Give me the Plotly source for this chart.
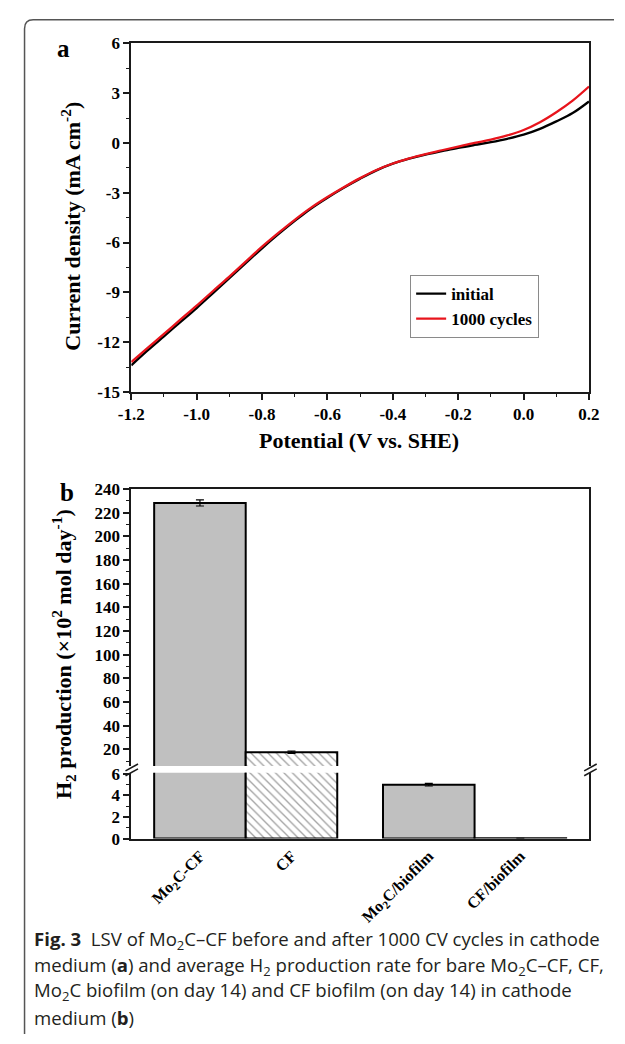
import plotly.graph_objects as go

W, H = 625, 1044

# ---------------- Panel a data (LSV) ----------------
potential = [-1.2, -1.15, -1.1, -1.05, -1.0, -0.95, -0.9, -0.85, -0.8, -0.75,
             -0.7, -0.65, -0.6, -0.55, -0.5, -0.45, -0.4, -0.35, -0.3, -0.25,
             -0.2, -0.15, -0.1, -0.05, 0.0, 0.05, 0.1, 0.15, 0.2]
j_initial = [-13.4, -12.5, -11.65, -10.8, -9.95, -9.05, -8.15, -7.25, -6.35, -5.5,
             -4.7, -3.95, -3.3, -2.7, -2.15, -1.65, -1.25, -0.95, -0.7, -0.5,
             -0.3, -0.12, 0.05, 0.25, 0.5, 0.85, 1.3, 1.8, 2.5]
j_1000 = [-13.2, -12.35, -11.5, -10.65, -9.8, -8.92, -8.05, -7.15, -6.25, -5.42,
          -4.63, -3.9, -3.26, -2.67, -2.12, -1.63, -1.24, -0.93, -0.67, -0.44,
          -0.22, 0.0, 0.2, 0.45, 0.78, 1.25, 1.85, 2.55, 3.4]
a_xticks = [-1.2, -1.0, -0.8, -0.6, -0.4, -0.2, 0.0, 0.2]
a_xticklabels = ["-1.2", "-1.0", "-0.8", "-0.6", "-0.4", "-0.2", "0.0", "0.2"]
a_yticks = [-15, -12, -9, -6, -3, 0, 3, 6]
a_yticklabels = ["-15", "-12", "-9", "-6", "-3", "0", "3", "6"]

# ---------------- Panel b data (H2 production) ----------------
categories = ["Mo<sub>2</sub>C-CF", "CF", "Mo<sub>2</sub>C/biofilm", "CF/biofilm"]
h2_rate = [228.3, 17.6, 5.0, 0.03]
h2_err = [2.6, 1.0, 0.12, 0.0]
b_upper_ticks = [20, 40, 60, 80, 100, 120, 140, 160, 180, 200, 220, 240]
b_lower_ticks = [0, 2, 4, 6]

# broken y axis ranges for panel b
LOWER_RANGE = [0, 6.1]
UPPER_RANGE = [6, 240]

# ---------------- layout helpers ----------------
def px(x):
    return x / W

def py(y):
    return 1 - y / H

# bar centres on a numeric axis (two touching pairs separated by half a bar)
bar_slots = [0.75, 1.75, 3.25, 4.25]

SERIF = "Liberation Serif"
SANS = "Open Sans"
AX = "#1a1a1a"
XDOM = [px(123), px(599)]

fig = go.Figure()

# Panel a lines
fig.add_trace(go.Scatter(x=potential, y=j_initial, mode="lines", name="initial",
                         line=dict(color="#000000", width=2.3, shape="spline"),
                         xaxis="x", yaxis="y"))
fig.add_trace(go.Scatter(x=potential, y=j_1000, mode="lines", name="1000 cycles",
                         line=dict(color="#e8141c", width=2.3, shape="spline"),
                         xaxis="x", yaxis="y"))

bar_colors = ["#c0c0c0", "#ffffff", "#c0c0c0", "#c0c0c0"]
bar_patterns = ["", "\\", "", ""]
# upper segment only shows bars that reach into it
upper_vals = [v if v > UPPER_RANGE[0] else None for v in h2_rate]
upper_err = [e if v > UPPER_RANGE[0] else 0 for v, e in zip(h2_rate, h2_err)]
lower_err = [e if v <= LOWER_RANGE[1] else 0 for v, e in zip(h2_rate, h2_err)]
for xa, ya, vals, errs in (("x2", "y2", h2_rate, lower_err),
                           ("x3", "y3", upper_vals, upper_err)):
    fig.add_trace(go.Bar(
        x=bar_slots, y=vals, width=1.0, xaxis=xa, yaxis=ya, showlegend=False,
        marker=dict(color=bar_colors,
                    line=dict(color="#000000", width=2),
                    pattern=dict(shape=bar_patterns, fgcolor="#3a3a3a",
                                 bgcolor="#ffffff", size=6, solidity=0.22)),
        error_y=dict(type="data", array=errs, visible=True,
                     color="#000000", thickness=1.2, width=4),
    ))

tickfont = dict(family=SERIF, size=17, color="#000000", weight="bold")
common = dict(showline=True, linecolor=AX, linewidth=1.8, showgrid=False,
              zeroline=False, ticks="outside", tickcolor=AX, tickwidth=1.6,
              ticklen=6, tickfont=tickfont)

fig.update_layout(
    width=W, height=H, margin=dict(l=0, r=0, t=0, b=0),
    paper_bgcolor="white", plot_bgcolor="white",
    showlegend=True,
    legend=dict(x=px(413), y=py(271), xanchor="left", yanchor="top",
                bordercolor="#8a8a8a", borderwidth=1, bgcolor="white",
                font=dict(family=SERIF, size=17, color="#000000", weight="bold"),
                tracegroupgap=0, itemwidth=30),
    xaxis=dict(domain=XDOM, anchor="y", range=[-1.2, 0.2], mirror=True,
               tickvals=a_xticks, ticktext=a_xticklabels,
               minor=dict(dtick=0.1, tick0=-1.2, ticks="outside", ticklen=3,
                          tickcolor=AX, tickwidth=1.4), **common),
    yaxis=dict(domain=[py(390), py(35)], anchor="x", range=[-15, 6], mirror=True,
               tickvals=a_yticks, ticktext=a_yticklabels,
               minor=dict(dtick=1.5, tick0=-15, ticks="outside", ticklen=3,
                          tickcolor=AX, tickwidth=1.4), **common),
    xaxis2=dict(domain=XDOM, anchor="y2", range=[0, 5], showline=True,
                linecolor=AX, linewidth=1.8, showgrid=False, zeroline=False,
                ticks="", tickvals=bar_slots, ticktext=categories, tickangle=-45,
                tickfont=dict(family=SERIF, size=16, color="#000000", weight="bold")),
    yaxis2=dict(domain=[py(845), py(778)], anchor="x2", range=LOWER_RANGE, mirror=True,
                tickvals=b_lower_ticks, ticktext=[str(v) for v in b_lower_ticks],
                minor=dict(dtick=1, tick0=0, ticks="outside", ticklen=3,
                           tickcolor=AX, tickwidth=1.4), **common),
    xaxis3=dict(domain=XDOM, anchor="y3", matches="x2", side="top", showline=True,
                linecolor=AX, linewidth=1.8, showgrid=False, zeroline=False,
                ticks="", showticklabels=False),
    yaxis3=dict(domain=[py(771), py(489)], anchor="x3", range=UPPER_RANGE, mirror=True,
                tickvals=b_upper_ticks, ticktext=[str(v) for v in b_upper_ticks],
                minor=dict(dtick=10, tick0=0, ticks="outside", ticklen=3,
                           tickcolor=AX, tickwidth=1.4), **common),
)

# ---------------- annotations ----------------
ann = []
def text(x, y, s, size, family=SERIF, angle=0, xanchor="center", yanchor="middle",
         weight="bold", color="#000000", align="center"):
    ann.append(dict(x=px(x), y=py(y), xref="paper", yref="paper", text=s,
                    showarrow=False, textangle=angle, xanchor=xanchor,
                    yanchor=yanchor, align=align,
                    font=dict(family=family, size=size, color=color, weight=weight)))

text(52, 40, "a", 25)
text(56, 492, "b", 25)
text(360, 439, "Potential (V vs. SHE)", 22)
text(60, 221, "Current density (mA cm<sup>-2</sup>)", 22, angle=-90)
text(52, 657, "H<sub>2</sub> production (\u00d710<sup>2</sup> mol day<sup>-1</sup>)", 22, angle=-90)

caption_lines = [
    "<b>Fig. 3</b>  LSV of Mo<sub>2</sub>C\u2013CF before and after 1000 CV cycles in cathode",
    "medium (<b>a</b>) and average H<sub>2</sub> production rate for bare Mo<sub>2</sub>C\u2013CF, CF,",
    "Mo<sub>2</sub>C biofilm (on day 14) and CF biofilm (on day 14) in cathode",
    "medium (<b>b</b>)",
]
for i, line in enumerate(caption_lines):
    text(20, 948 + 26.3 * i, line, 18.6, family=SANS, xanchor="left",
         weight="normal", color="#231f20", align="left")

fig.update_layout(annotations=ann)

# ---------------- shapes: axis-break marks and frame ----------------
shapes = []
def seg(x0, y0, x1, y1, color=AX, width=1.6):
    shapes.append(dict(type="line", xref="paper", yref="paper",
                       x0=px(x0), y0=py(y0), x1=px(x1), y1=py(y1),
                       line=dict(color=color, width=width)))

for cx in (123, 600):
    seg(cx - 6, 776, cx + 7, 769)
    seg(cx - 6, 781, cx + 7, 774)

# caption frame (top-left rounded border)
frame_path = "M {0},{1} L {0},{2} Q {0},{3} {4},{3} L {5},{3}".format(
    px(12), py(1044), py(20), py(11), px(21), px(625))
shapes.append(dict(type="path", xref="paper", yref="paper", path=frame_path,
                   line=dict(color="#555555", width=1.5)))

fig.update_layout(shapes=shapes)

fig.write_html("out.html")
